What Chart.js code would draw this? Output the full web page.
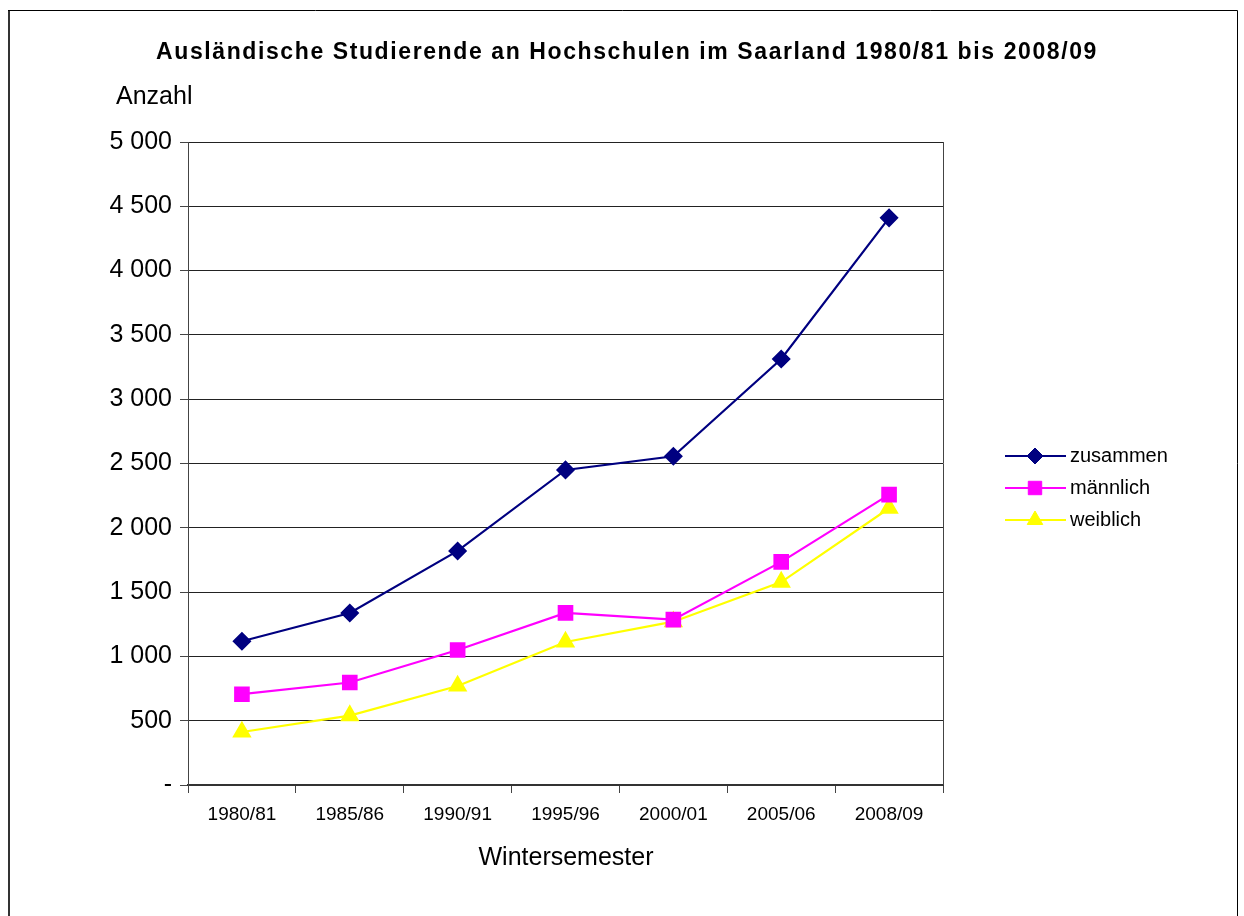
<!DOCTYPE html>
<html>
<head>
<meta charset="utf-8">
<title>Ausländische Studierende</title>
<script src="https://cdn.jsdelivr.net/npm/chart.js@4.4.0/dist/chart.umd.min.js"></script>
<style>
	body { margin: 0; background: #fff; }
	canvas { display: block; }
</style>
</head>
<body>
<canvas id="chart" width="1244" height="916"></canvas>
<script>
const semesters = ['1980/81', '1985/86', '1990/91', '1995/96', '2000/01', '2005/06', '2008/09']
const zusammen = [1118, 1337, 1820, 2450, 2556, 3313, 4410]
const maennlich = [706, 797, 1050, 1338, 1286, 1735, 2258]
const weiblich = [412, 540, 770, 1112, 1270, 1578, 2152]
const yTicks = [0, 500, 1000, 1500, 2000, 2500, 3000, 3500, 4000, 4500, 5000]

const font = "'Liberation Sans', Arial, sans-serif"

function fmt(v) {
	if (v === 0) return '-'
	return String(v).replace(/\B(?=(\d{3})+(?!\d))/g, ' ')
}

const extras = {
	id: 'extras',
	afterDraw(chart) {
		const ctx = chart.ctx
		const area = chart.chartArea
		ctx.save()

		// outer frame
		ctx.strokeStyle = '#333'
		ctx.lineWidth = 2
		ctx.beginPath(); ctx.moveTo(9, 10); ctx.lineTo(9, 916); ctx.stroke()
		ctx.strokeStyle = '#000'
		ctx.lineWidth = 1
		ctx.beginPath(); ctx.moveTo(8, 10.5); ctx.lineTo(1237.5, 10.5); ctx.lineTo(1237.5, 916); ctx.stroke()

		// right edge of plot
		ctx.strokeStyle = '#444'
		ctx.beginPath(); ctx.moveTo(area.right + 0.5, area.top); ctx.lineTo(area.right + 0.5, area.bottom); ctx.stroke()

		// texts
		ctx.fillStyle = '#000'
		ctx.textBaseline = 'middle'
		ctx.textAlign = 'center'
		ctx.font = 'bold 23px ' + font
		ctx.letterSpacing = '1.6px'
		ctx.fillText('Ausländische Studierende an Hochschulen im Saarland 1980/81 bis 2008/09', 627, 53)
		ctx.letterSpacing = '0px'
		ctx.font = '25px ' + font
		ctx.fillText('Wintersemester', 566, 858)
		ctx.textAlign = 'left'
		ctx.fillText('Anzahl', 116, 97)

		// legend
		chart.data.datasets.forEach((ds, i) => {
			const y = 456 + 32 * i
			ctx.strokeStyle = ds.borderColor
			ctx.lineWidth = 2
			ctx.beginPath(); ctx.moveTo(1005, y); ctx.lineTo(1066, y); ctx.stroke()
			ctx.fillStyle = ds.pointBackgroundColor
			ctx.strokeStyle = ds.pointBorderColor
			ctx.lineWidth = 1
			Chart.helpers.drawPoint(ctx, { pointStyle: ds.pointStyle, radius: ds.pointRadius, rotation: 0, borderWidth: 1 }, 1035, y)
			ctx.fillStyle = '#000'
			ctx.font = '20px ' + font
			ctx.fillText(ds.label, 1070, y)
		})
		ctx.restore()
	}
}

new Chart(document.getElementById('chart'), {
	type: 'line',
	data: {
		labels: semesters,
		datasets: [
			{
				label: 'zusammen',
				data: zusammen,
				borderColor: '#000080',
				borderWidth: 2.2,
				pointStyle: 'rectRot',
				pointRadius: 8,
				pointBackgroundColor: '#000080',
				pointBorderColor: '#000080'
			},
			{
				label: 'männlich',
				data: maennlich,
				borderColor: '#ff00ff',
				borderWidth: 2.2,
				pointStyle: 'rect',
				pointRadius: 9.5,
				pointBackgroundColor: '#ff00ff',
				pointBorderColor: '#ff00ff'
			},
			{
				label: 'weiblich',
				data: weiblich,
				borderColor: '#ffff00',
				borderWidth: 2.2,
				pointStyle: 'triangle',
				pointRadius: 9,
				pointBackgroundColor: '#ffff00',
				pointBorderColor: '#ffff00'
			}
		]
	},
	options: {
		responsive: false,
		animation: false,
		events: [],
		layout: { padding: { left: 0, top: 142, right: 301, bottom: 0 } },
		plugins: {
			legend: { display: false },
			title: { display: false },
			tooltip: { enabled: false }
		},
		scales: {
			x: {
				offset: true,
				grid: { offset: true, drawOnChartArea: false, tickLength: 8, color: '#444' },
				border: { color: '#333', width: 2 },
				ticks: { color: '#000', font: { family: font, size: 19 }, padding: 10, maxRotation: 0 },
				afterFit(scale) { scale.height = 131 }
			},
			y: {
				min: 0,
				max: 5000,
				afterBuildTicks(scale) { scale.ticks = yTicks.map(v => ({ value: v })) },
				grid: { color: '#222', lineWidth: 1, tickLength: 8, tickColor: '#444' },
				border: { color: '#444', width: 1 },
				ticks: { color: '#000', font: { family: font, size: 25 }, padding: 8, callback: v => fmt(v) },
				afterFit(scale) { scale.width = 188 }
			}
		}
	},
	plugins: [extras]
})
</script>
</body>
</html>
